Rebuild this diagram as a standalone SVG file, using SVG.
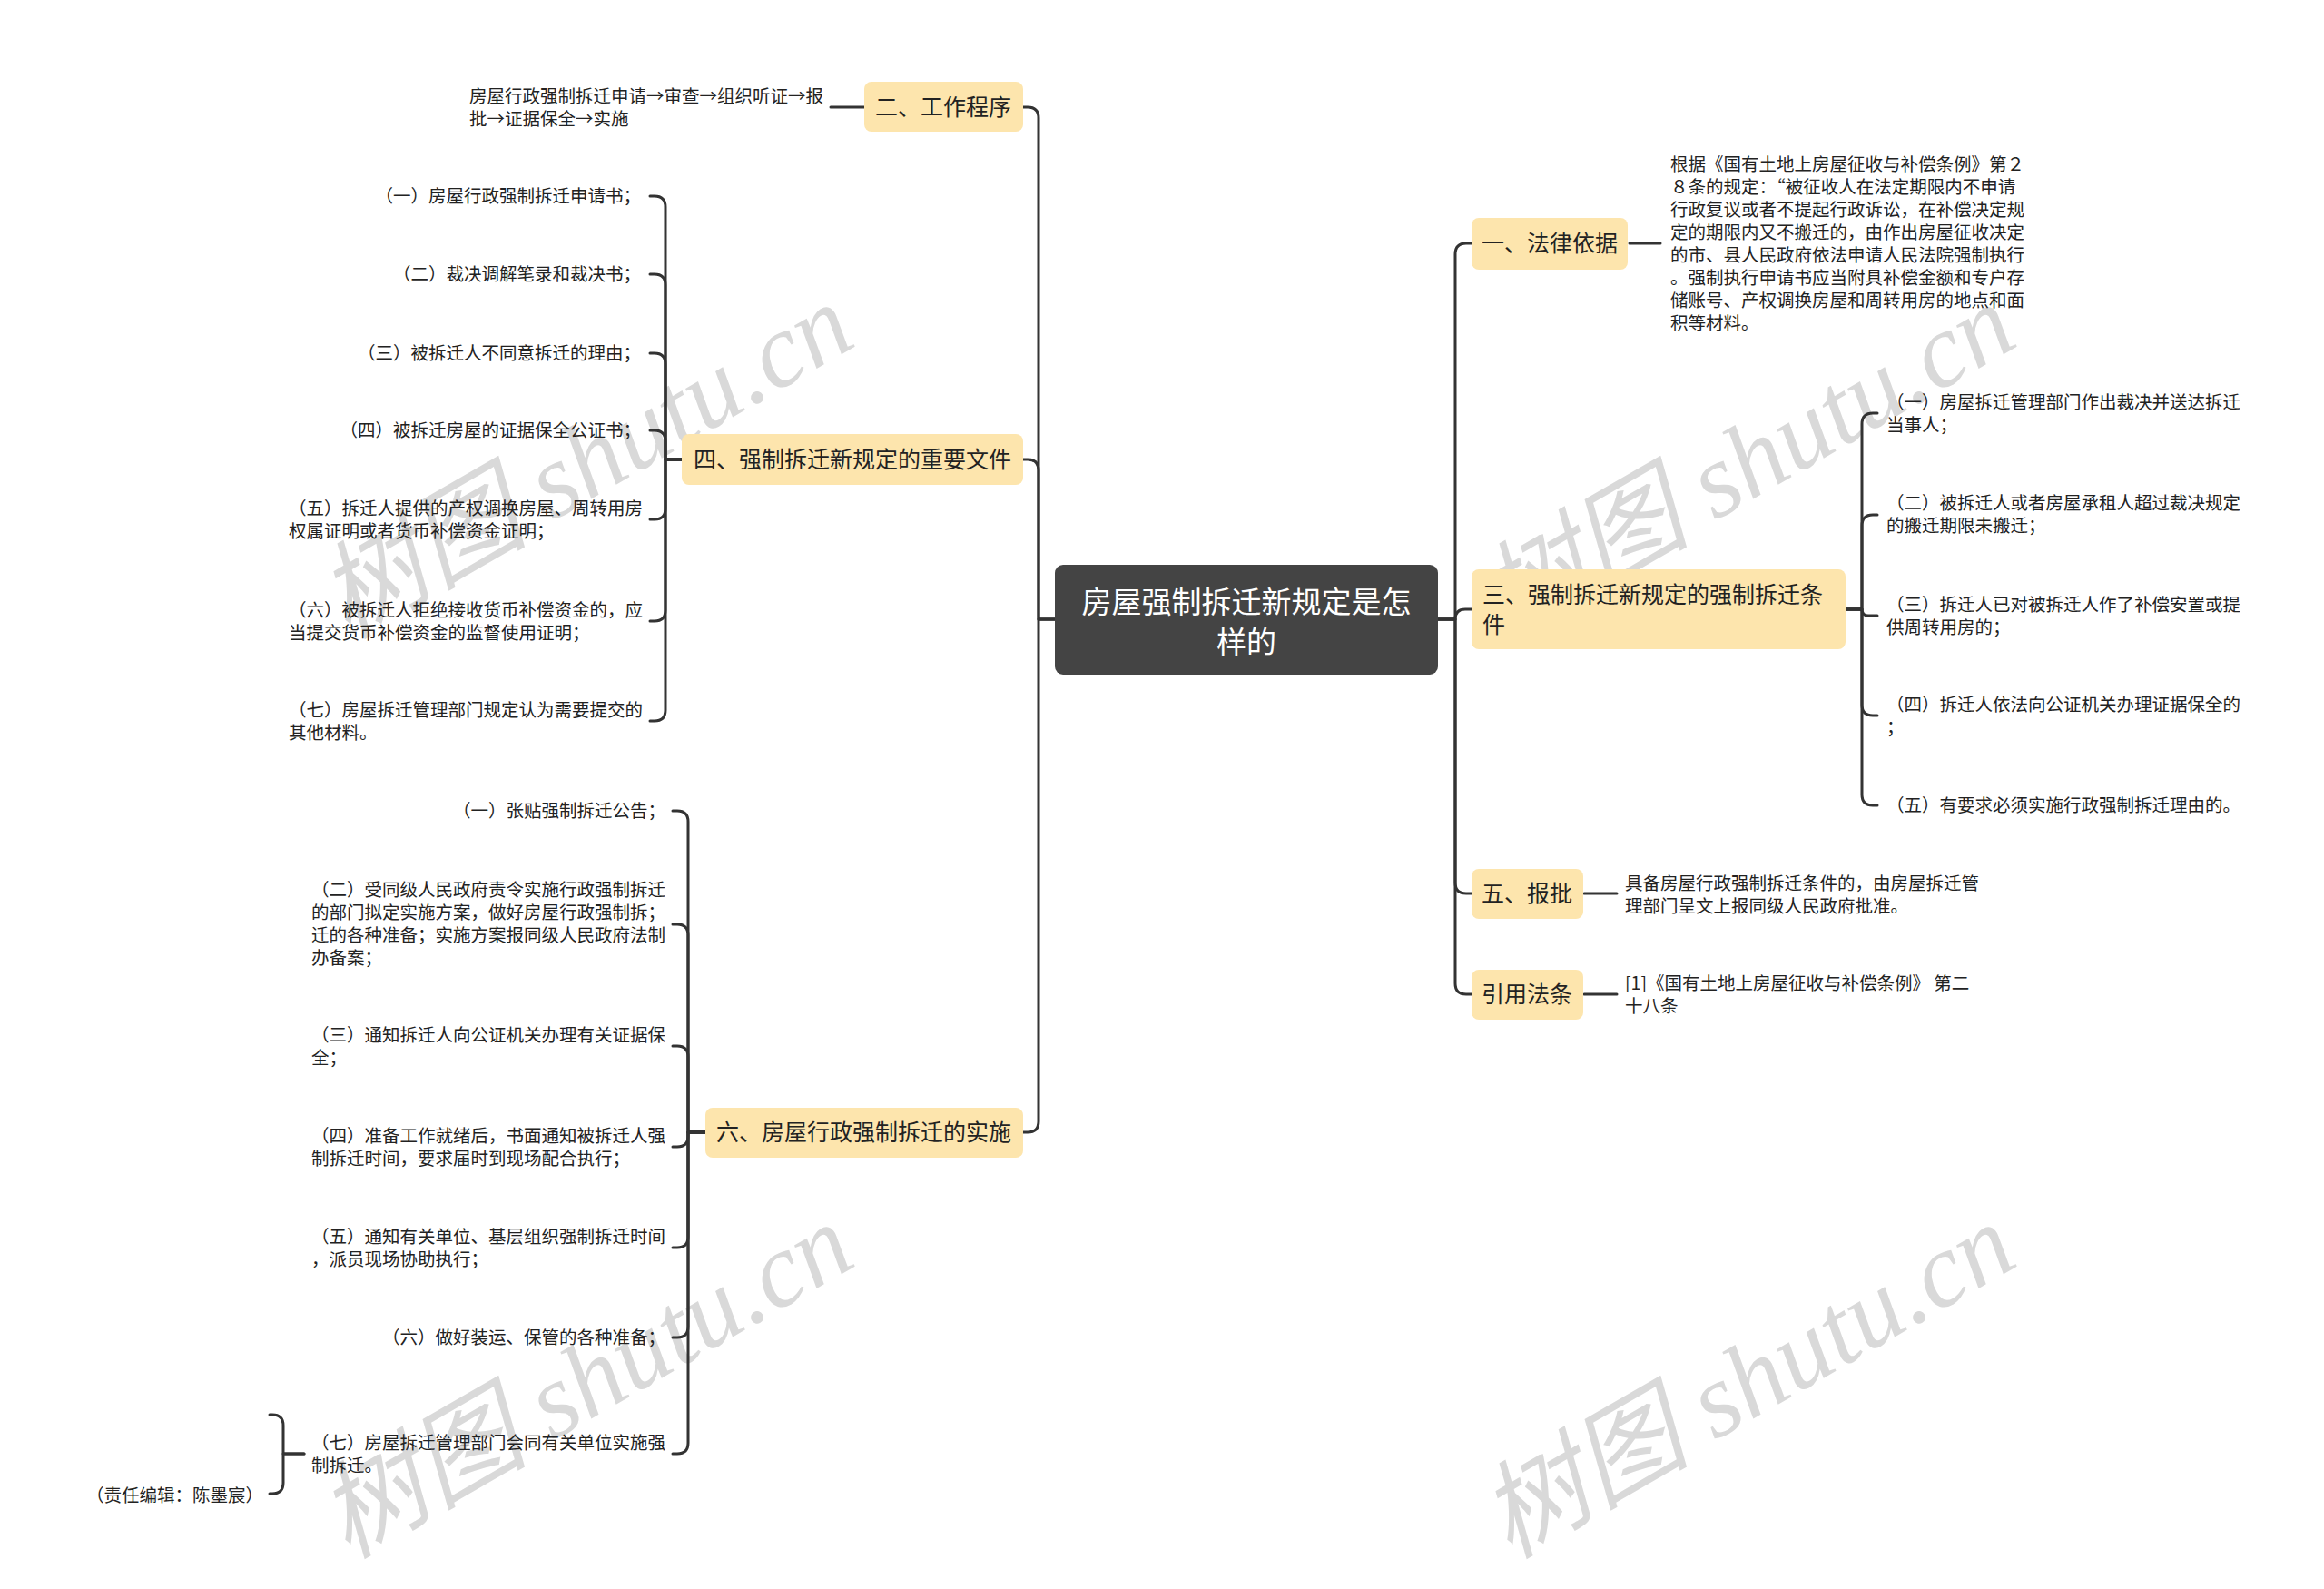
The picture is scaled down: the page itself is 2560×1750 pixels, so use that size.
<svg xmlns="http://www.w3.org/2000/svg" width="2560" height="1750" viewBox="0 0 2560 1750">
<style>
.bg{fill:#ffffff}
.wm{font-family:"Liberation Serif","Noto Sans CJK SC",serif;font-style:italic;font-size:116px;fill:#d9d9d9}
.con{fill:none;stroke:#333333;stroke-width:3;stroke-linecap:round;stroke-linejoin:round}
.root rect{fill:#444444}
.root text{font-family:"Noto Sans CJK SC","Noto Sans",sans-serif;font-size:33px;fill:#ffffff;text-anchor:middle;dominant-baseline:central;transform:translateY(-2px)}
.topic rect{fill:#fde5ad}
.topic text{font-family:"Noto Sans CJK SC","Noto Sans",sans-serif;font-size:25px;fill:#222222;dominant-baseline:central;transform:translateY(-2px)}
.leaf text{font-family:"Noto Sans CJK SC","Noto Sans",sans-serif;font-size:19.5px;fill:#222222;dominant-baseline:central;transform:translateY(-2px)}
.r{text-anchor:end}
</style>
<rect class="bg" x="0" y="0" width="2560" height="1750"/>
<g id="watermarks">
<text class="wm" transform="translate(645,508) rotate(-30)" text-anchor="middle" dominant-baseline="central">树图 shutu.cn</text>
<text class="wm" transform="translate(1925,508) rotate(-30)" text-anchor="middle" dominant-baseline="central">树图 shutu.cn</text>
<text class="wm" transform="translate(645,1521) rotate(-30)" text-anchor="middle" dominant-baseline="central">树图 shutu.cn</text>
<text class="wm" transform="translate(1925,1521) rotate(-30)" text-anchor="middle" dominant-baseline="central">树图 shutu.cn</text>
</g>
<g id="connectors" class="con">
<path d="M1162,682 H1144 V130 Q1144,118 1132,118 H1127"/>
<path d="M1162,682 H1144 V518 Q1144,506 1132,506 H1127"/>
<path d="M1162,682 H1144 V1235 Q1144,1247 1132,1247 H1127"/>
<path d="M1584,682 H1603 V280 Q1603,268 1615,268 H1621"/>
<path d="M1584,682 H1603 Q1603,671 1614,671 H1621"/>
<path d="M1584,682 H1603 V972 Q1603,984 1615,984 H1621"/>
<path d="M1584,682 H1603 V1083 Q1603,1095 1615,1095 H1621"/>
<path d="M952,118 H915"/>
<path d="M1795,268 H1829"/>
<path d="M1745,984 H1781"/>
<path d="M1745,1095 H1781"/>
<path d="M2033,671 H2051 V467 Q2051,455 2063,455 H2068"/>
<path d="M2033,671 H2051 V579 Q2051,567 2063,567 H2068"/>
<path d="M2033,671 H2051 Q2051,678 2058,678 H2068"/>
<path d="M2033,671 H2051 V776 Q2051,788 2063,788 H2068"/>
<path d="M2033,671 H2051 V875 Q2051,887 2063,887 H2068"/>
<path d="M751,506 H733 V228 Q733,216 721,216 H716"/>
<path d="M751,506 H733 V314 Q733,302 721,302 H716"/>
<path d="M751,506 H733 V401 Q733,389 721,389 H716"/>
<path d="M751,506 H733 V486 Q733,474 721,474 H716"/>
<path d="M751,506 H733 V560 Q733,572 721,572 H716"/>
<path d="M751,506 H733 V672 Q733,684 721,684 H716"/>
<path d="M751,506 H733 V782 Q733,794 721,794 H716"/>
<path d="M777,1247 H758 V905 Q758,893 746,893 H741"/>
<path d="M777,1247 H758 V1030 Q758,1018 746,1018 H741"/>
<path d="M777,1247 H758 V1164 Q758,1152 746,1152 H741"/>
<path d="M777,1247 H758 V1251 Q758,1263 746,1263 H741"/>
<path d="M777,1247 H758 V1362 Q758,1374 746,1374 H741"/>
<path d="M777,1247 H758 V1461 Q758,1473 746,1473 H741"/>
<path d="M777,1247 H758 V1589 Q758,1601 746,1601 H741"/>
<path d="M335,1601 H312 V1570 Q312,1558 300,1558 H297"/>
<path d="M335,1601 H312 V1633 Q312,1645 300,1645 H297"/>
</g>
<g id="root" class="root">
<rect x="1162" y="622" width="422" height="121" rx="9"/>
<text x="1373" y="663">房屋强制拆迁新规定是怎</text>
<text x="1373" y="707">样的</text>
</g>
<g id="n2" class="topic">
<rect x="952" y="90" width="175" height="55" rx="8"/>
<text x="964" y="118">二、工作程序</text>
</g>
<g id="n2a" class="leaf">
<text x="517" y="106">房屋行政强制拆迁申请→审查→组织听证→报</text>
<text x="517" y="131">批→证据保全→实施</text>
</g>
<g id="n4" class="topic">
<rect x="751" y="478" width="376" height="56" rx="8"/>
<text x="764" y="506">四、强制拆迁新规定的重要文件</text>
</g>
<g id="n4a" class="leaf"><text class="r" x="706" y="216">（一）房屋行政强制拆迁申请书；</text></g>
<g id="n4b" class="leaf"><text class="r" x="706" y="302">（二）裁决调解笔录和裁决书；</text></g>
<g id="n4c" class="leaf"><text class="r" x="706" y="389">（三）被拆迁人不同意拆迁的理由；</text></g>
<g id="n4d" class="leaf"><text class="r" x="706" y="474">（四）被拆迁房屋的证据保全公证书；</text></g>
<g id="n4e" class="leaf">
<text x="318" y="560">（五）拆迁人提供的产权调换房屋、周转用房</text>
<text x="318" y="585">权属证明或者货币补偿资金证明；</text>
</g>
<g id="n4f" class="leaf">
<text x="318" y="672">（六）被拆迁人拒绝接收货币补偿资金的，应</text>
<text x="318" y="697">当提交货币补偿资金的监督使用证明；</text>
</g>
<g id="n4g" class="leaf">
<text x="318" y="782">（七）房屋拆迁管理部门规定认为需要提交的</text>
<text x="318" y="807">其他材料。</text>
</g>
<g id="n6" class="topic">
<rect x="777" y="1220" width="350" height="55" rx="8"/>
<text x="789" y="1247">六、房屋行政强制拆迁的实施</text>
</g>
<g id="n6a" class="leaf"><text class="r" x="733" y="893">（一）张贴强制拆迁公告；</text></g>
<g id="n6b" class="leaf">
<text x="343" y="980">（二）受同级人民政府责令实施行政强制拆迁</text>
<text x="343" y="1005">的部门拟定实施方案，做好房屋行政强制拆；</text>
<text x="343" y="1030">迁的各种准备；实施方案报同级人民政府法制</text>
<text x="343" y="1055">办备案；</text>
</g>
<g id="n6c" class="leaf">
<text x="343" y="1140">（三）通知拆迁人向公证机关办理有关证据保</text>
<text x="343" y="1165">全；</text>
</g>
<g id="n6d" class="leaf">
<text x="343" y="1251">（四）准备工作就绪后，书面通知被拆迁人强</text>
<text x="343" y="1276">制拆迁时间，要求届时到现场配合执行；</text>
</g>
<g id="n6e" class="leaf">
<text x="343" y="1362">（五）通知有关单位、基层组织强制拆迁时间</text>
<text x="343" y="1387">，派员现场协助执行；</text>
</g>
<g id="n6f" class="leaf"><text class="r" x="733" y="1473">（六）做好装运、保管的各种准备；</text></g>
<g id="n6g" class="leaf">
<text x="343" y="1589">（七）房屋拆迁管理部门会同有关单位实施强</text>
<text x="343" y="1614">制拆迁。</text>
</g>
<g id="n6g1" class="leaf"><text class="r" x="290" y="1647">（责任编辑：陈墨宸）</text></g>
<g id="n1" class="topic">
<rect x="1621" y="240" width="172" height="57" rx="8"/>
<text x="1632" y="268">一、法律依据</text>
</g>
<g id="n1a" class="leaf">
<text x="1840" y="181">根据《国有土地上房屋征收与补偿条例》第２</text>
<text x="1840" y="206">８条的规定：“被征收人在法定期限内不申请</text>
<text x="1840" y="231">行政复议或者不提起行政诉讼，在补偿决定规</text>
<text x="1840" y="256">定的期限内又不搬迁的，由作出房屋征收决定</text>
<text x="1840" y="281">的市、县人民政府依法申请人民法院强制执行</text>
<text x="1840" y="306">。强制执行申请书应当附具补偿金额和专户存</text>
<text x="1840" y="331">储账号、产权调换房屋和周转用房的地点和面</text>
<text x="1840" y="356">积等材料。</text>
</g>
<g id="n3" class="topic">
<rect x="1621" y="627" width="412" height="88" rx="8"/>
<text x="1633" y="655">三、强制拆迁新规定的强制拆迁条</text>
<text x="1633" y="688">件</text>
</g>
<g id="n3a" class="leaf">
<text x="2078" y="443">（一）房屋拆迁管理部门作出裁决并送达拆迁</text>
<text x="2078" y="468">当事人；</text>
</g>
<g id="n3b" class="leaf">
<text x="2078" y="554">（二）被拆迁人或者房屋承租人超过裁决规定</text>
<text x="2078" y="579">的搬迁期限未搬迁；</text>
</g>
<g id="n3c" class="leaf">
<text x="2078" y="666">（三）拆迁人已对被拆迁人作了补偿安置或提</text>
<text x="2078" y="691">供周转用房的；</text>
</g>
<g id="n3d" class="leaf">
<text x="2078" y="776">（四）拆迁人依法向公证机关办理证据保全的</text>
<text x="2078" y="801">；</text>
</g>
<g id="n3e" class="leaf"><text x="2078" y="887">（五）有要求必须实施行政强制拆迁理由的。</text></g>
<g id="n5" class="topic">
<rect x="1621" y="957" width="123" height="55" rx="8"/>
<text x="1632" y="984">五、报批</text>
</g>
<g id="n5a" class="leaf">
<text x="1790" y="973">具备房屋行政强制拆迁条件的，由房屋拆迁管</text>
<text x="1790" y="998">理部门呈文上报同级人民政府批准。</text>
</g>
<g id="n7" class="topic">
<rect x="1621" y="1068" width="123" height="55" rx="8"/>
<text x="1632" y="1095">引用法条</text>
</g>
<g id="n7a" class="leaf">
<text x="1790" y="1083">[1]《国有土地上房屋征收与补偿条例》 第二</text>
<text x="1790" y="1108">十八条</text>
</g>
</svg>
